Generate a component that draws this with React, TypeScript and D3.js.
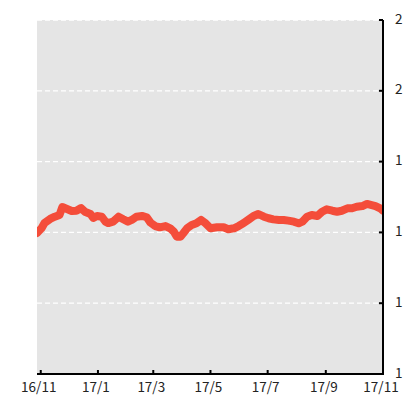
import React from "react";
import * as d3 from "d3";

const dates: string[] = [
  "2016-10-28","2016-11-02","2016-11-05","2016-11-11","2016-11-16","2016-11-21","2016-11-24","2016-11-29",
  "2016-12-04","2016-12-09","2016-12-14","2016-12-18","2016-12-24","2016-12-27","2016-12-31",
  "2017-01-05","2017-01-09","2017-01-12","2017-01-17","2017-01-23","2017-01-28",
  "2017-02-02","2017-02-06","2017-02-11","2017-02-17","2017-02-22","2017-02-26",
  "2017-03-03","2017-03-08","2017-03-14","2017-03-19","2017-03-23","2017-03-26","2017-03-30",
  "2017-04-02","2017-04-06","2017-04-11","2017-04-16","2017-04-21","2017-04-25",
  "2017-05-01","2017-05-08","2017-05-15","2017-05-20","2017-05-26","2017-05-31",
  "2017-06-05","2017-06-11","2017-06-16","2017-06-21","2017-06-27",
  "2017-07-02","2017-07-07","2017-07-13","2017-07-18","2017-07-23","2017-07-29",
  "2017-08-03","2017-08-07","2017-08-12","2017-08-17","2017-08-23","2017-08-28",
  "2017-09-02","2017-09-08","2017-09-13","2017-09-18","2017-09-24","2017-09-29",
  "2017-10-04","2017-10-10","2017-10-15","2017-10-20","2017-10-24","2017-10-29","2017-11-01",
];

const values: number[] = [
  1.3996,1.4031,1.4066,1.4095,1.4111,1.4123,1.4179,1.4165,
  1.4151,1.4153,1.4172,1.4146,1.4130,1.4102,1.4116,
  1.4111,1.4076,1.4066,1.4076,1.4111,1.4093,
  1.4076,1.4088,1.4111,1.4116,1.4107,1.4069,
  1.4045,1.4036,1.4045,1.4029,1.4005,1.3970,1.3970,
  1.3994,1.4029,1.4052,1.4064,1.4088,1.4069,
  1.4029,1.4036,1.4036,1.4022,1.4029,1.4045,
  1.4064,1.4092,1.4116,1.4130,1.4111,
  1.4100,1.4092,1.4088,1.4088,1.4083,1.4076,
  1.4064,1.4076,1.4111,1.4123,1.4116,1.4146,
  1.4163,1.4153,1.4146,1.4153,1.4170,1.4170,
  1.4181,1.4186,1.4201,1.4193,1.4186,1.4170,1.4153,
];

const yTicks: number[] = [1.3, 1.35, 1.4, 1.45, 1.5, 1.55];
const xTickDates: string[] = ["2016-11-01","2017-01-01","2017-03-01","2017-05-01","2017-07-01","2017-09-01","2017-11-01"];
const xDomain: string[] = ["2016-10-28", "2017-11-01"];
const yDomain: number[] = [1.3, 1.55];

const W = 404, H = 396;
const left = 37, right = 383, top = 20, bottom = 374;
const FONT = "'Noto Sans CJK JP', 'DejaVu Sans', sans-serif";

export default function App() {
  const parse = d3.timeParse("%Y-%m-%d");
  const x = d3.scaleTime()
    .domain(xDomain.map((s) => parse(s) as Date))
    .range([left, right]);
  const y = d3.scaleLinear().domain(yDomain).range([bottom, top]);
  const data = dates.map((d, i) => ({ date: parse(d) as Date, v: values[i] }));
  const line = d3.line<{ date: Date; v: number }>()
    .x((d) => x(d.date))
    .y((d) => y(d.v));
  const fy = d3.format(".0f");
  const fx = d3.timeFormat("%y/%-m");

  return (
    <svg width={W} height={H} style={{ position: "absolute", left: 0, top: 0 }}>
      <defs>
        <clipPath id="panel">
          <rect x={left} y={top} width={right - left} height={bottom - top} />
        </clipPath>
      </defs>
      <rect x={left} y={top} width={right - left} height={bottom - top} fill="#E5E5E5" />
      {yTicks.map((t, i) => (
        <line key={"g" + i} x1={left} x2={right} y1={y(t)} y2={y(t)}
          stroke="#fff" strokeWidth={1.3} strokeDasharray="5,3" />
      ))}
      <path d={line(data) || ""} fill="none" stroke="#F44D3A" strokeWidth={8}
        strokeLinejoin="round" strokeLinecap="round" clipPath="url(#panel)" />
      <line x1={left} x2={right + 1} y1={bottom} y2={bottom} stroke="#000" strokeWidth={2} />
      <line x1={right} x2={right} y1={top} y2={bottom + 1} stroke="#000" strokeWidth={2} />
      {yTicks.map((t, i) => (
        <g key={"yt" + i}>
          <line x1={right - 4} x2={right} y1={y(t)} y2={y(t)} stroke="#000" strokeWidth={2} />
          <text x={395} y={y(t)} dominantBaseline="middle" fontSize={13.5}
            fontFamily={FONT} fill="#222">{fy(t)}</text>
        </g>
      ))}
      {xTickDates.map((s, i) => {
        const d = parse(s) as Date;
        return (
          <g key={"xt" + i}>
            <line x1={x(d)} x2={x(d)} y1={bottom - 4} y2={bottom} stroke="#000" strokeWidth={2} />
            <text x={x(d) - 2} y={392} textAnchor="middle" fontSize={13.5}
              fontFamily={FONT} fill="#222">{fx(d)}</text>
          </g>
        );
      })}
    </svg>
  );
}
